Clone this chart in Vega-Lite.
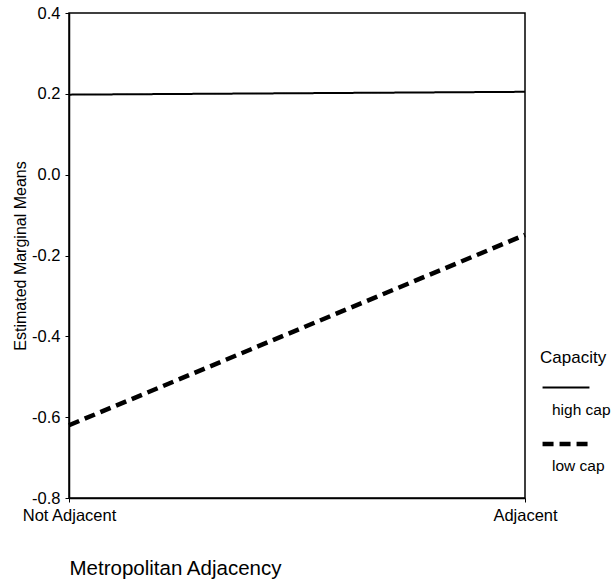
{
  "$schema": "https://vega.github.io/schema/vega-lite/v6.json",
  "autosize": {"type": "none"},
  "padding": {"left": 69, "top": 13, "right": 88, "bottom": 86},
  "width": 456,
  "height": 485,
  "background": "white",
  "config": {
    "font": "Liberation Sans",
    "view": {"stroke": "black", "strokeWidth": 1.5},
    "axis": {
      "grid": false,
      "domainColor": "black",
      "domainWidth": 1.5,
      "tickColor": "black",
      "tickSize": 4,
      "labelColor": "black",
      "labelFontSize": 16.5,
      "titleColor": "black",
      "titleFontWeight": "normal"
    },
    "legend": {
      "titleFontWeight": "normal",
      "titleColor": "black",
      "labelColor": "black"
    }
  },
  "data": {
    "values": [
      {"Adjacency": "Not Adjacent", "Capacity": "high cap", "Mean": 0.198},
      {"Adjacency": "Adjacent", "Capacity": "high cap", "Mean": 0.205},
      {"Adjacency": "Not Adjacent", "Capacity": "low cap", "Mean": -0.62},
      {"Adjacency": "Adjacent", "Capacity": "low cap", "Mean": -0.149}
    ]
  },
  "mark": {"type": "line", "color": "black"},
  "encoding": {
    "x": {
      "field": "Adjacency",
      "type": "ordinal",
      "sort": ["Not Adjacent", "Adjacent"],
      "scale": {"type": "point", "padding": 0},
      "axis": {
        "title": "Metropolitan Adjacency",
        "titleFontSize": 20.5,
        "titleAnchor": "start",
        "titleAlign": "left",
        "titlePadding": 35,
        "labelAngle": 0,
        "labelPadding": 5
      }
    },
    "y": {
      "field": "Mean",
      "type": "quantitative",
      "scale": {"domain": [-0.8, 0.4], "nice": false, "zero": false},
      "axis": {
        "title": "Estimated Marginal Means",
        "titleFontSize": 16,
        "titlePadding": 3,
        "values": [-0.8, -0.6, -0.4, -0.2, 0, 0.2, 0.4],
        "format": ".1f",
        "labelExpr": "replace(datum.label, '\u2212', '-')",
        "labelPadding": 5
      }
    },
    "strokeDash": {
      "field": "Capacity",
      "type": "nominal",
      "scale": {"domain": ["high cap", "low cap"], "range": [[1, 0], [11, 6]]},
      "legend": {
        "title": "Capacity",
        "titleFontSize": 17,
        "titlePadding": -4,
        "orient": "none",
        "legendX": 471,
        "legendY": 337,
        "symbolSize": 2200,
        "symbolStrokeColor": "black",
        "labelFontSize": 15.5,
        "labelBaseline": "middle",
        "labelOffset": -40,
        "labelLimit": 80,
        "rowPadding": -4,
        "encode": {
          "labels": {"update": {"dy": {"value": 22}}}
        }
      }
    },
    "strokeWidth": {
      "field": "Capacity",
      "type": "nominal",
      "scale": {"domain": ["high cap", "low cap"], "range": [2, 4.5]},
      "legend": null
    }
  }
}
